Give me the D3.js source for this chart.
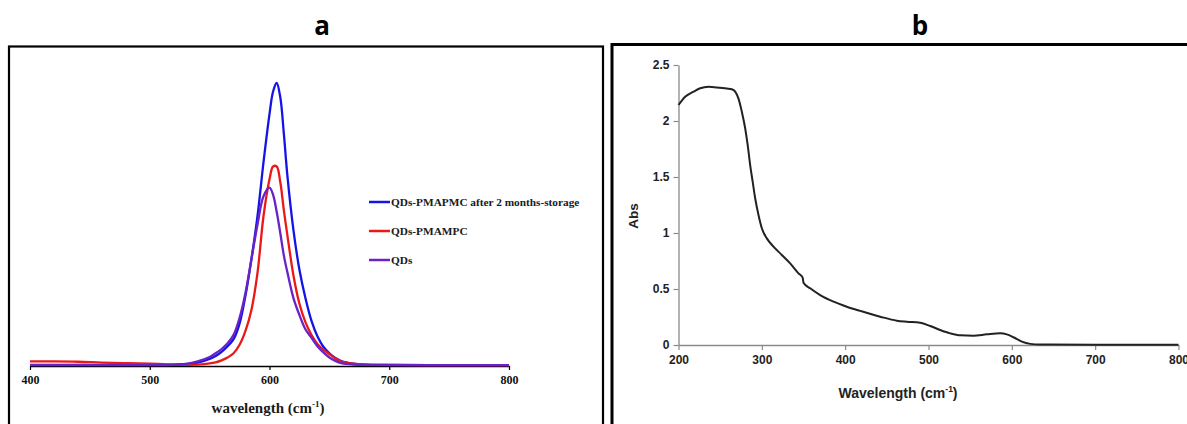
<!DOCTYPE html>
<html><head><meta charset="utf-8">
<script src="https://cdn.jsdelivr.net/npm/d3@7"></script>
<style>body{margin:0;background:#fff}svg{display:block}</style>
</head><body>
<svg id="c" width="1187" height="424"></svg>
<script>
// ---- Panel a data (emission, a.u.) ----
const wavelengthsA = [400,420,440,460,480,500,520,530,540,550,555,560,565,570,575,580,585,590,595,600,603,606,609,612,615,620,625,630,635,640,645,650,655,660,670,680,700,750,800];
const qdsStorage = [0.004,0.004,0.004,0.004,0.004,0.004,0.005,0.007,0.012,0.025,0.035,0.05,0.07,0.095,0.15,0.25,0.38,0.53,0.72,0.89,0.97,1.0,0.95,0.82,0.67,0.48,0.34,0.24,0.16,0.105,0.068,0.045,0.028,0.017,0.008,0.005,0.004,0.003,0.003];
const qdsPMAMPC = [0.016,0.016,0.015,0.012,0.01,0.008,0.005,0.004,0.005,0.009,0.013,0.02,0.03,0.045,0.075,0.125,0.2,0.33,0.53,0.66,0.705,0.705,0.65,0.55,0.46,0.32,0.22,0.155,0.11,0.078,0.058,0.042,0.027,0.016,0.008,0.005,0.004,0.003,0.003];
const qds = [0.003,0.003,0.003,0.003,0.003,0.003,0.004,0.007,0.016,0.032,0.045,0.06,0.08,0.11,0.17,0.26,0.38,0.5,0.6,0.63,0.605,0.545,0.47,0.39,0.33,0.24,0.18,0.13,0.1,0.07,0.048,0.03,0.018,0.01,0.005,0.004,0.003,0.003,0.003];
const seriesNamesA = ["QDs-PMAPMC after 2 months-storage","QDs-PMAMPC","QDs"];
const ticksA = [400,500,600,700,800];

// ---- Panel b data (absorbance) ----
const wavelengthsB = [200,208,218,226,236,246,258,264,268,272,276,280,283,286,289,292,296,300,306,314,324,334,344,349,350,358,370,386,402,418,442,462,474,490,502,514,526,538,554,570,586,594,602,612,622,634,700,800];
const absB = [2.143,2.217,2.262,2.292,2.306,2.30,2.29,2.283,2.262,2.20,2.083,1.935,1.786,1.607,1.458,1.31,1.16,1.042,0.952,0.878,0.804,0.729,0.64,0.601,0.556,0.506,0.446,0.387,0.342,0.305,0.253,0.217,0.208,0.199,0.17,0.134,0.104,0.086,0.083,0.095,0.104,0.095,0.069,0.03,0.01,0.004,0.003,0.002];
const ticksBx = [200,300,400,500,600,700,800];
const ticksBy = [0,0.5,1,1.5,2,2.5];

const svg = d3.select("#c");
const colorsA = ["#1414e6","#ec1818","#6a22c8"];

// titles
svg.append("text").attr("x",322).attr("y",35).attr("text-anchor","middle")
  .attr("font-family","Open Sans").attr("font-weight","bold").attr("font-size",26).text("a");
svg.append("text").attr("x",920).attr("y",35).attr("text-anchor","middle")
  .attr("font-family","Open Sans").attr("font-weight","bold").attr("font-size",26).text("b");

// frames
svg.append("rect").attr("x",9).attr("y",46.5).attr("width",594).attr("height",400)
  .attr("fill","none").attr("stroke","#000").attr("stroke-width",2.2);
svg.append("rect").attr("x",612).attr("y",44.5).attr("width",600).attr("height",400)
  .attr("fill","none").attr("stroke","#000").attr("stroke-width",3);

// ---- Panel a ----
const xA = d3.scaleLinear().domain([400,800]).range([30,509]);
const yA = d3.scaleLinear().domain([0,1]).range([366,83]);
const gA = svg.append("g");
const axA = gA.append("g").attr("transform","translate(0,366)")
  .call(d3.axisBottom(xA).tickValues(ticksA).tickSize(4).tickSizeOuter(0));
axA.select(".domain").attr("stroke","#000").attr("stroke-width",1.6);
axA.selectAll(".tick line").attr("stroke","#000").attr("stroke-width",1.2);
axA.selectAll(".tick text").attr("font-family","Liberation Serif").attr("font-weight","bold")
  .attr("font-size",12).attr("fill","#111").attr("dy","0.95em");
const serA = [qdsStorage,qdsPMAMPC,qds];
const lineA = d3.line().curve(d3.curveCatmullRom.alpha(0.5));
serA.forEach((s,i)=>{
  gA.append("path").attr("d",lineA(wavelengthsA.map((w,j)=>[xA(w),yA(s[j])])))
    .attr("fill","none").attr("stroke",colorsA[i]).attr("stroke-width",2.3);
});
// legend
const legY = [202,231,260];
seriesNamesA.forEach((n,i)=>{
  gA.append("line").attr("x1",369).attr("x2",390).attr("y1",legY[i]).attr("y2",legY[i])
    .attr("stroke",colorsA[i]).attr("stroke-width",2.5);
  gA.append("text").attr("x",391).attr("y",legY[i]).attr("dy","0.35em")
    .attr("font-family","Liberation Serif").attr("font-weight","bold").attr("font-size",11.3)
    .attr("fill","#1a1a1a").text(n);
});
const tA = gA.append("text").attr("x",268).attr("y",413).attr("text-anchor","middle")
  .attr("font-family","Liberation Serif").attr("font-weight","bold").attr("font-size",15).attr("fill","#1a1a1a");
tA.append("tspan").text("wavelength (cm");
tA.append("tspan").attr("font-size",9).attr("dy",-6).text("-1");
tA.append("tspan").attr("dy",6).text(")");

// ---- Panel b ----
const xB = d3.scaleLinear().domain([200,800]).range([678.5,1178.5]);
const yB = d3.scaleLinear().domain([0,2.5]).range([345,65]);
const gB = svg.append("g");
const axBx = gB.append("g").attr("transform","translate(0,345)")
  .call(d3.axisBottom(xB).tickValues(ticksBx).tickSize(5).tickSizeOuter(0));
const axBy = gB.append("g").attr("transform","translate(678.5,0)")
  .call(d3.axisLeft(yB).tickValues(ticksBy).tickSize(5).tickSizeOuter(0).tickFormat(d=>String(d)));
[axBx,axBy].forEach(a=>{
  a.select(".domain").attr("stroke","#8a8a8a").attr("stroke-width",1.3);
  a.selectAll(".tick line").attr("stroke","#8a8a8a").attr("stroke-width",1.2);
  a.selectAll(".tick text").attr("font-family","Liberation Sans").attr("font-weight","bold")
    .attr("font-size",12).attr("fill","#222");
});
axBx.selectAll(".tick text").attr("dy","0.95em");
axBy.selectAll(".tick text").attr("x",-9);
gB.append("path").attr("d",d3.line().curve(d3.curveMonotoneX)(wavelengthsB.map((w,j)=>[xB(w),yB(absB[j])])))
  .attr("fill","none").attr("stroke","#222").attr("stroke-width",2);
const tB = gB.append("text").attr("x",898).attr("y",398).attr("text-anchor","middle")
  .attr("font-family","Liberation Sans").attr("font-weight","bold").attr("font-size",14).attr("fill","#222");
tB.append("tspan").text("Wavelength (cm");
tB.append("tspan").attr("font-size",8.5).attr("dy",-6).text("-1");
tB.append("tspan").attr("dy",6).text(")");
gB.append("text").attr("transform","translate(638,216) rotate(-90)").attr("text-anchor","middle")
  .attr("font-family","Liberation Sans").attr("font-weight","bold").attr("font-size",13.5).attr("fill","#222").text("Abs");
</script>
</body></html>
